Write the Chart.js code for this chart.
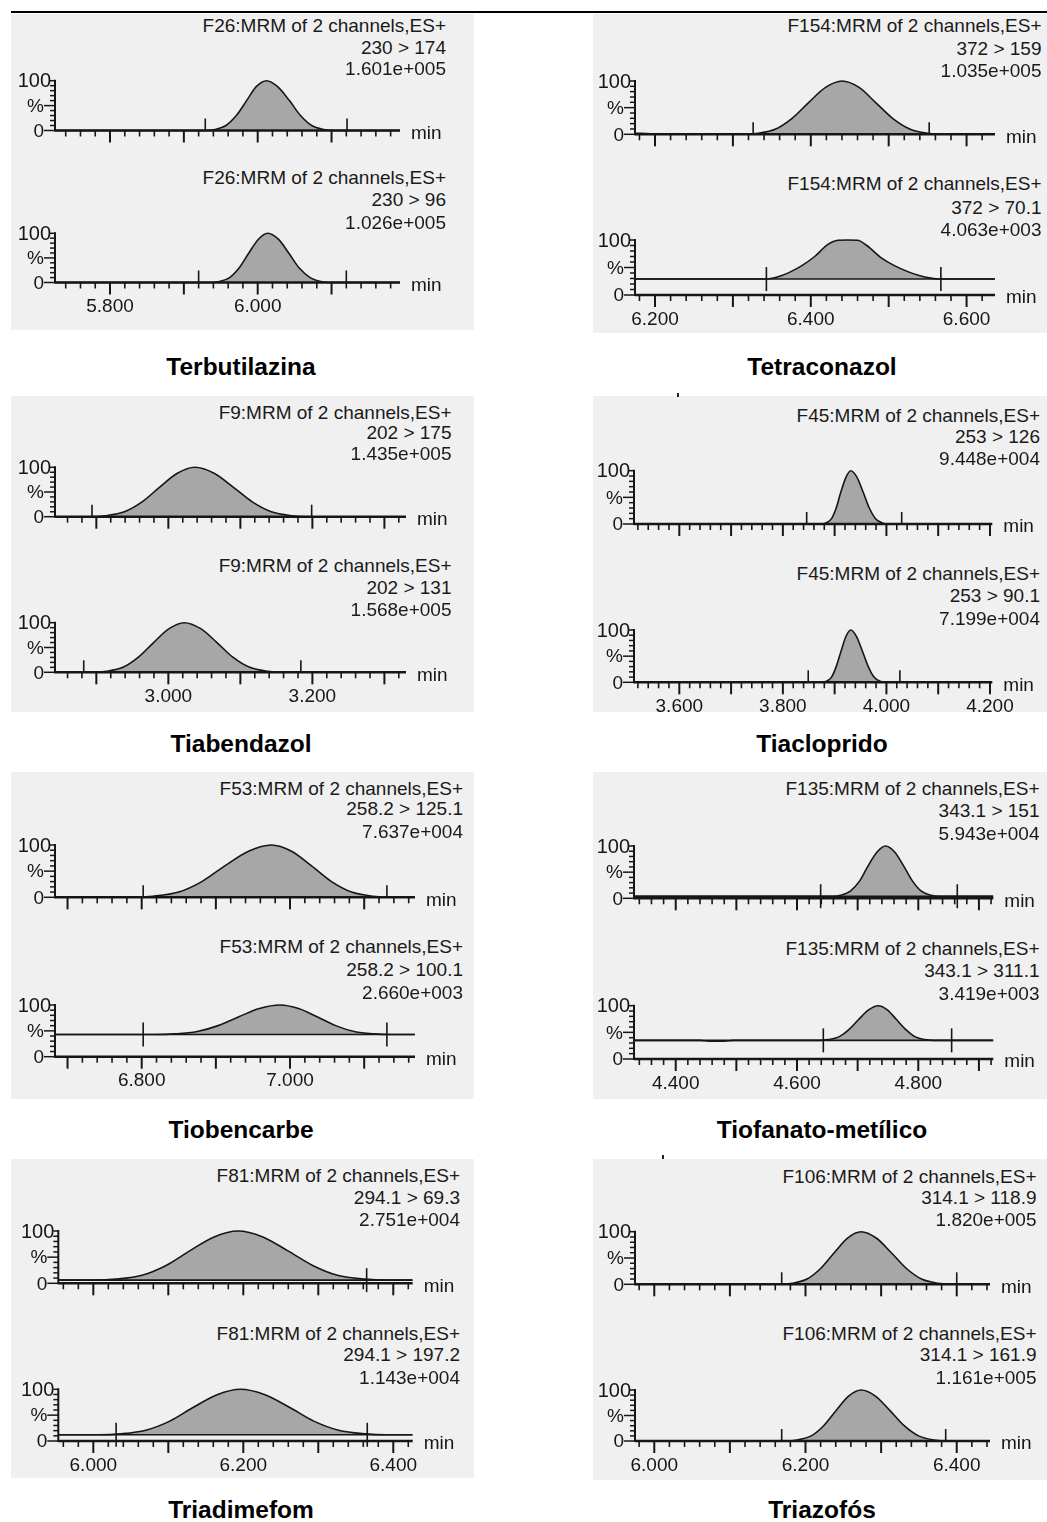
<!DOCTYPE html>
<html>
<head>
<meta charset="utf-8">
<script src="https://cdn.jsdelivr.net/npm/chart.js@4.4.1/dist/chart.umd.min.js"></script>
<style>
  html, body { margin: 0; padding: 0; background: #fff; }
  body { position: relative; width: 1047px; height: 1522px; overflow: hidden;
         font-family: "Liberation Sans", Arial, Helvetica, sans-serif; color: #1a1a1a; }
  .rule { position: absolute; left: 11px; top: 11px; width: 1036px; height: 2px; background: #000; }
  .panel { position: absolute; background: #f0f0f0; }
  .speck { position: absolute; width: 2px; height: 4px; background: #222; }
  canvas { position: absolute; }
  .note { position: absolute; font-size: 19px; line-height: 1; white-space: nowrap;
          transform: translate(-100%, -50%); }
  .title { position: absolute; font-size: 24.5px; font-weight: bold; line-height: 1; white-space: nowrap;
           transform: translate(-50%, -50%); color: #000; }
</style>
</head>
<body>
<div class="rule"></div>
<script>
// ---- Retention time (min) and relative intensity (%) of each MRM transition ----
const terbutilazinaTimeA = [5.726, 5.930, 5.942, 5.957, 5.971, 5.985, 5.998, 6.012, 6.027, 6.043, 6.058, 6.073, 6.090, 6.104, 6.193];
const terbutilazinaIntA  = [0, 0, 2, 10, 30, 60, 88, 100, 88, 60, 30, 10, 2, 0, 0];
const terbutilazinaTimeB = [5.726, 5.936, 5.948, 5.962, 5.975, 5.988, 6.001, 6.0135, 6.028, 6.042, 6.056, 6.071, 6.086, 6.099, 6.193];
const terbutilazinaIntB  = [0, 0, 2, 10, 30, 60, 88, 100, 88, 60, 30, 10, 2, 0, 0];

const tetraconazolTimeA = [6.175, 6.195, 6.22, 6.3125, 6.332, 6.355, 6.376, 6.3975, 6.419, 6.440, 6.462, 6.483, 6.505, 6.527, 6.550, 6.570, 6.636];
const tetraconazolIntA  = [2, 1, 0, 0, 2, 10, 30, 60, 88, 100, 88, 60, 30, 10, 2, 0, 0];
const tetraconazolTimeB = [6.175, 6.22, 6.26, 6.30, 6.343, 6.360, 6.375, 6.388, 6.405, 6.422, 6.435, 6.447, 6.460, 6.472, 6.490, 6.508, 6.538, 6.567, 6.636];
const tetraconazolIntB  = [29, 29, 29, 29, 29, 34, 43, 53, 70, 92, 99.5, 100, 99.5, 90, 68, 53, 36, 29, 29];

const tiabendazolTimeA = [2.843, 2.890, 2.912, 2.939, 2.9635, 2.988, 3.0125, 3.037, 3.0635, 3.090, 3.1165, 3.143, 3.172, 3.196, 3.330];
const tiabendazolIntA  = [0, 0, 2, 10, 30, 60, 88, 100, 88, 60, 30, 10, 2, 0, 0];
const tiabendazolTimeB = [2.843, 2.8945, 2.914, 2.937, 2.958, 2.9795, 3.001, 3.022, 3.045, 3.0675, 3.090, 3.113, 3.138, 3.1585, 3.330];
const tiabendazolIntB  = [0, 0, 2, 10, 30, 60, 88, 100, 88, 60, 30, 10, 2, 0, 0];

const tiaclopridoTimeA = [3.513, 3.875, 3.883, 3.894, 3.903, 3.912, 3.922, 3.931, 3.943, 3.955, 3.967, 3.979, 3.992, 4.002, 4.204];
const tiaclopridoIntA  = [0, 0, 2, 10, 30, 60, 88, 100, 88, 60, 30, 10, 2, 0, 0];
const tiaclopridoTimeB = [3.513, 3.8755, 3.884, 3.894, 3.903, 3.9125, 3.922, 3.931, 3.942, 3.9535, 3.965, 3.976, 3.988, 3.9985, 4.204];
const tiaclopridoIntB  = [0, 0, 2, 10, 30, 60, 88, 100, 88, 60, 30, 10, 2, 0, 0];

const tiobencarbeTimeA = [6.684, 6.787, 6.815, 6.850, 6.881, 6.912, 6.944, 6.975, 7.002, 7.029, 7.056, 7.083, 7.112, 7.136, 7.168];
const tiobencarbeIntA  = [0, 0, 2, 10, 30, 60, 88, 100, 88, 60, 30, 10, 2, 0, 0];
const tiobencarbeTimeB = [6.684, 6.75, 6.819, 6.8445, 6.875, 6.903, 6.931, 6.9586, 6.9865, 7.0115, 7.0365, 7.0615, 7.0865, 7.114, 7.1365, 7.168];
const tiobencarbeIntB  = [43, 43, 43, 44.1, 48.7, 60.1, 77.2, 93.2, 100, 93.2, 77.2, 60.1, 48.7, 44.1, 43, 43];

const tiofanatoTimeA = [4.332, 4.659, 4.672, 4.688, 4.703, 4.717, 4.732, 4.746, 4.761, 4.776, 4.7905, 4.805, 4.821, 4.835, 4.923];
const tiofanatoIntA  = [4, 4, 5.9, 13.6, 32.8, 61.6, 88.5, 100, 88.5, 61.6, 32.8, 13.6, 5.9, 4, 4];
const tiofanatoTimeB = [4.332, 4.44, 4.455, 4.48, 4.495, 4.6365, 4.651, 4.669, 4.685, 4.7015, 4.718, 4.734, 4.749, 4.764, 4.780, 4.795, 4.8115, 4.825, 4.923];
const tiofanatoIntB  = [35, 35, 33.5, 33.5, 35, 35, 36.3, 41.5, 54.5, 74, 92.2, 100, 92.2, 74, 54.5, 41.5, 36.3, 35, 35];

const triadimefomTimeA = [5.954, 6.001, 6.030, 6.065, 6.097, 6.129, 6.161, 6.193, 6.226, 6.259, 6.2925, 6.3255, 6.362, 6.392, 6.425];
const triadimefomIntA  = [6, 6, 7.9, 15.4, 34.2, 62.4, 88.7, 100, 88.7, 62.4, 34.2, 15.4, 7.9, 6, 6];
const triadimefomTimeB = [5.954, 6.0074, 6.036, 6.070, 6.102, 6.133, 6.165, 6.1964, 6.229, 6.262, 6.294, 6.327, 6.363, 6.392, 6.425];
const triadimefomIntB  = [12, 12, 13.8, 20.8, 38.4, 64.8, 89.4, 100, 89.4, 64.8, 38.4, 20.8, 13.8, 12, 12];

const triazofosTimeA = [5.975, 6.166, 6.1825, 6.202, 6.220, 6.238, 6.2556, 6.2735, 6.2935, 6.3135, 6.3335, 6.3535, 6.3755, 6.3935, 6.443];
const triazofosIntA  = [0, 0, 2, 10, 30, 60, 88, 100, 88, 60, 30, 10, 2, 0, 0];
const triazofosTimeB = [5.975, 6.1745, 6.189, 6.2075, 6.224, 6.2405, 6.257, 6.2735, 6.2925, 6.3115, 6.3305, 6.3495, 6.370, 6.3875, 6.443];
const triazofosIntB  = [0, 0, 2, 10, 30, 60, 88, 100, 88, 60, 30, 10, 2, 0, 0];

// Integration baseline level (%) and peak start/end marks (min)
const baselineLevels = { terbutilazina: [0, 0], tetraconazol: [0, 29], tiabendazol: [0, 0], tiacloprido: [0, 0],
                         tiobencarbe: [0, 43], tiofanato: [4, 35], triadimefom: [6, 12], triazofos: [0, 0] };
const terbutilazinaMarks = [[5.929, 6.121], [5.920, 6.120]];
const tetraconazolMarks  = [[6.326, 6.552], [6.343, 6.567]];
const tiabendazolMarks   = [[2.894, 3.199], [2.8825, 3.184]];
const tiaclopridoMarks   = [[3.846, 4.0295], [3.849, 4.026]];
const tiobencarbeMarks   = [[6.802, 7.1306], [6.802, 7.1306]];
const tiofanatoMarks     = [[4.639, 4.8643], [4.6434, 4.855]];
const triadimefomMarks   = [[6.3645], [6.0304, 6.3653]];
const triazofosMarks     = [[6.1685, 6.400], [6.1685, 6.3854]];

// Time axis ranges and labelled ticks
const terbutilazinaRange = [5.7255, 6.1927], terbutilazinaTicks = [5.8, 6.0];
const tetraconazolRange  = [6.1743, 6.6365], tetraconazolTicks  = [6.2, 6.4, 6.6];
const tiabendazolRange   = [2.8426, 3.3300], tiabendazolTicks   = [3.0, 3.2];
const tiaclopridoRange   = [3.5125, 4.2045], tiaclopridoTicks   = [3.6, 3.8, 4.0, 4.2];
const tiobencarbeRange   = [6.6831, 7.1685], tiobencarbeTicks   = [6.8, 7.0];
const tiofanatoRange     = [4.3312, 4.9237], tiofanatoTicks     = [4.4, 4.6, 4.8];
const triadimefomRange   = [5.9533, 6.4259], triadimefomTicks   = [6.0, 6.2, 6.4];
const triazofosRange     = [5.9745, 6.4440], triazofosTicks     = [6.0, 6.2, 6.4];

// Header lines printed above each trace
const terbutilazinaHeaders = [["F26:MRM of 2 channels,ES+", "230 > 174", "1.601e+005"], ["F26:MRM of 2 channels,ES+", "230 > 96", "1.026e+005"]];
const tetraconazolHeaders  = [["F154:MRM of 2 channels,ES+", "372 > 159", "1.035e+005"], ["F154:MRM of 2 channels,ES+", "372 > 70.1", "4.063e+003"]];
const tiabendazolHeaders   = [["F9:MRM of 2 channels,ES+", "202 > 175", "1.435e+005"], ["F9:MRM of 2 channels,ES+", "202 > 131", "1.568e+005"]];
const tiaclopridoHeaders   = [["F45:MRM of 2 channels,ES+", "253 > 126", "9.448e+004"], ["F45:MRM of 2 channels,ES+", "253 > 90.1", "7.199e+004"]];
const tiobencarbeHeaders   = [["F53:MRM of 2 channels,ES+", "258.2 > 125.1", "7.637e+004"], ["F53:MRM of 2 channels,ES+", "258.2 > 100.1", "2.660e+003"]];
const tiofanatoHeaders     = [["F135:MRM of 2 channels,ES+", "343.1 > 151", "5.943e+004"], ["F135:MRM of 2 channels,ES+", "343.1 > 311.1", "3.419e+003"]];
const triadimefomHeaders   = [["F81:MRM of 2 channels,ES+", "294.1 > 69.3", "2.751e+004"], ["F81:MRM of 2 channels,ES+", "294.1 > 197.2", "1.143e+004"]];
const triazofosHeaders     = [["F106:MRM of 2 channels,ES+", "314.1 > 118.9", "1.820e+005"], ["F106:MRM of 2 channels,ES+", "314.1 > 161.9", "1.161e+005"]];

const compoundNames = ["Terbutilazina", "Tetraconazol", "Tiabendazol", "Tiacloprido",
                       "Tiobencarbe", "Tiofanato-metílico", "Triadimefom", "Triazofós"];

// ---- Page layout of the eight panels (pixels) ----
const panels = [
  { name: compoundNames[0], box: [11, 14, 474, 330], axis: [55, 400], title: [241, 367], textRight: 446,
    range: terbutilazinaRange, ticks: terbutilazinaTicks, headers: terbutilazinaHeaders, marks: terbutilazinaMarks,
    base: baselineLevels.terbutilazina,
    traces: [[terbutilazinaTimeA, terbutilazinaIntA], [terbutilazinaTimeB, terbutilazinaIntB]],
    rows: [{ top: 80.7, zero: 130.5, text: [25, 46.7, 68.3] }, { top: 233.3, zero: 282.5, text: [176.7, 199.3, 221.7] }] },
  { name: compoundNames[1], box: [593, 14, 1047, 333], axis: [635, 995], title: [822, 367], textRight: 1041.5,
    range: tetraconazolRange, ticks: tetraconazolTicks, headers: tetraconazolHeaders, marks: tetraconazolMarks,
    base: baselineLevels.tetraconazol,
    traces: [[tetraconazolTimeA, tetraconazolIntA], [tetraconazolTimeB, tetraconazolIntB]],
    rows: [{ top: 81, zero: 134.3, text: [25, 47.7, 70] }, { top: 240, zero: 295, text: [183.3, 206.7, 229.3] }] },
  { name: compoundNames[2], box: [11, 396, 474, 712], axis: [55, 406], title: [241, 744], textRight: 451.5,
    range: tiabendazolRange, ticks: tiabendazolTicks, headers: tiabendazolHeaders, marks: tiabendazolMarks,
    base: baselineLevels.tiabendazol,
    traces: [[tiabendazolTimeA, tiabendazolIntA], [tiabendazolTimeB, tiabendazolIntB]],
    rows: [{ top: 467.3, zero: 516.7, text: [411.7, 431.7, 452.7] }, { top: 622.7, zero: 672.3, text: [565, 587.3, 609.3] }] },
  { name: compoundNames[3], box: [593, 396, 1047, 712], axis: [634, 992.3], title: [822, 744], textRight: 1040,
    range: tiaclopridoRange, ticks: tiaclopridoTicks, headers: tiaclopridoHeaders, marks: tiaclopridoMarks,
    base: baselineLevels.tiacloprido,
    traces: [[tiaclopridoTimeA, tiaclopridoIntA], [tiaclopridoTimeB, tiaclopridoIntB]],
    rows: [{ top: 470.7, zero: 524, text: [415, 436, 458.3] }, { top: 630, zero: 682.3, text: [572.7, 595, 617.7] }] },
  { name: compoundNames[4], box: [11, 772, 474, 1099], axis: [55, 415], title: [241, 1130], textRight: 463,
    range: tiobencarbeRange, ticks: tiobencarbeTicks, headers: tiobencarbeHeaders, marks: tiobencarbeMarks,
    base: baselineLevels.tiobencarbe,
    traces: [[tiobencarbeTimeA, tiobencarbeIntA], [tiobencarbeTimeB, tiobencarbeIntB]],
    rows: [{ top: 845, zero: 897.3, text: [787.7, 808.3, 831] }, { top: 1005, zero: 1056.7, text: [946, 969, 991.7] }] },
  { name: compoundNames[5], box: [593, 772, 1047, 1099], axis: [634, 993.3], title: [822, 1130], textRight: 1039.5,
    range: tiofanatoRange, ticks: tiofanatoTicks, headers: tiofanatoHeaders, marks: tiofanatoMarks,
    base: baselineLevels.tiofanato,
    traces: [[tiofanatoTimeA, tiofanatoIntA], [tiofanatoTimeB, tiofanatoIntB]],
    rows: [{ top: 846, zero: 898.3, text: [788.3, 810, 833.3] }, { top: 1005.7, zero: 1059, text: [947.7, 970, 993.3] }] },
  { name: compoundNames[6], box: [11, 1159, 474, 1478], axis: [58.3, 412.7], title: [241, 1510], textRight: 460,
    range: triadimefomRange, ticks: triadimefomTicks, headers: triadimefomHeaders, marks: triadimefomMarks,
    base: baselineLevels.triadimefom,
    traces: [[triadimefomTimeA, triadimefomIntA], [triadimefomTimeB, triadimefomIntB]],
    rows: [{ top: 1231, zero: 1283.3, text: [1175, 1196.7, 1219] }, { top: 1389.3, zero: 1441, text: [1332.7, 1354, 1376.7] }] },
  { name: compoundNames[7], box: [593, 1159, 1047, 1480], axis: [635, 990], title: [822, 1510], textRight: 1036.5,
    range: triazofosRange, ticks: triazofosTicks, headers: triazofosHeaders, marks: triazofosMarks,
    base: baselineLevels.triazofos,
    traces: [[triazofosTimeA, triazofosIntA], [triazofosTimeB, triazofosIntB]],
    rows: [{ top: 1231.7, zero: 1284.3, text: [1176, 1196.7, 1219] }, { top: 1390, zero: 1441, text: [1332.7, 1354, 1376.7] }] }
];

const INK = '#161616';
const FONT = '19px "Liberation Sans", Arial, Helvetica, sans-serif';
const FONT_100 = '20px "Liberation Sans", Arial, Helvetica, sans-serif';

// Draws the MassLynx-style axes, tick marks, integration marks and labels
const chromAxes = {
  id: 'chromAxes',
  afterDatasetsDraw(chart, args, opts) {
    const { ctx, chartArea: a, scales: { x, y } } = chart;
    const line = (x1, y1, x2, y2, w) => {
      ctx.lineWidth = w; ctx.beginPath(); ctx.moveTo(x1, y1); ctx.lineTo(x2, y2); ctx.stroke();
    };
    ctx.save();
    ctx.strokeStyle = INK; ctx.fillStyle = INK; ctx.lineCap = 'butt';

    // integration baseline and peak start/end marks
    const by = y.getPixelForValue(opts.base);
    if (opts.base > 0) line(a.left, by, a.right, by, 1.6);
    for (const m of opts.marks) {
      const mx = x.getPixelForValue(m);
      line(mx, by - 12, mx, opts.base > 0 ? by + 12 : by, 1.6);
    }

    // intensity axis
    line(a.left, a.top - 1, a.left, a.bottom + 1, 2);
    for (let v = 0; v <= 100; v += 10) {
      const len = (v === 0 || v === 50) ? 11 : 5;
      const py = y.getPixelForValue(v);
      line(a.left - len, py, a.left, py, 1.5);
    }

    // time axis with minor ticks every 0.02 min and major ticks every 0.1 min
    line(a.left, a.bottom, a.right, a.bottom, 2.5);
    const k0 = Math.ceil(x.min * 50 - 1e-6), k1 = Math.floor(x.max * 50 + 1e-6);
    for (let k = k0; k <= k1; k++) {
      const px = x.getPixelForValue(k / 50);
      const major = k % 5 === 0;
      line(px, a.bottom, px, a.bottom + (major ? 12 : 6), major ? 2 : 1.6);
    }

    ctx.textBaseline = 'middle';
    ctx.textAlign = 'right';
    ctx.font = FONT_100;
    ctx.fillText('100', a.left - 4, y.getPixelForValue(100) + 1);
    ctx.font = FONT;
    ctx.fillText('%', a.left - 11, y.getPixelForValue(50) + 1);
    ctx.fillText('0', a.left - 11, a.bottom + 1);
    ctx.textAlign = 'left';
    ctx.fillText('min', a.right + 11, a.bottom + 3);
    if (opts.tickLabels) {
      ctx.textAlign = 'center';
      for (const t of opts.tickLabels) ctx.fillText(t.toFixed(3), x.getPixelForValue(t), a.bottom + 24.5);
    }
    ctx.restore();
  }
};

function addDiv(cls, left, top, text) {
  const d = document.createElement('div');
  d.className = cls; d.style.left = left + 'px'; d.style.top = top + 'px';
  if (text !== undefined) d.textContent = text;
  document.body.appendChild(d);
  return d;
}

panels.forEach(p => {
  const [bl, bt, br, bb] = p.box;
  const bg = addDiv('panel', bl, bt);
  bg.style.width = (br - bl) + 'px'; bg.style.height = (bb - bt) + 'px';

  p.rows.forEach((row, r) => {
    const cLeft = Math.max(0, bl - 6), cRight = br;
    const cTop = Math.round(row.top - 14);
    const cBottom = r === 1 ? bb : Math.round(row.zero + 18);
    const w = cRight - cLeft, h = cBottom - cTop;
    const cv = document.createElement('canvas');
    cv.width = w; cv.height = h;
    cv.style.left = cLeft + 'px'; cv.style.top = cTop + 'px';
    cv.style.width = w + 'px'; cv.style.height = h + 'px';
    document.body.appendChild(cv);

    const [times, ints] = p.traces[r];
    new Chart(cv, {
      type: 'line',
      data: {
        datasets: [{
          data: times.map((t, k) => ({ x: t, y: ints[k] })),
          borderColor: INK, borderWidth: 1.6,
          backgroundColor: '#a7a7a7',
          fill: { value: p.base[r] },
          pointRadius: 0, cubicInterpolationMode: 'monotone',
          clip: { left: 0, right: 0, top: 3, bottom: 2 }
        }]
      },
      options: {
        responsive: false, animation: false, devicePixelRatio: 1, events: [],
        layout: { padding: { left: p.axis[0] - cLeft, right: cRight - p.axis[1], top: row.top - cTop, bottom: cBottom - row.zero } },
        scales: {
          x: { type: 'linear', min: p.range[0], max: p.range[1], display: false },
          y: { type: 'linear', min: 0, max: 100, display: false }
        },
        plugins: {
          legend: { display: false }, tooltip: { enabled: false },
          chromAxes: { base: p.base[r], marks: p.marks[r], tickLabels: r === 1 ? p.ticks : null }
        }
      },
      plugins: [chromAxes]
    });

    p.headers[r].forEach((txt, j) => addDiv('note', p.textRight, row.text[j], txt));
  });

  addDiv('title', p.title[0], p.title[1], p.name);
});

// small stray print marks above two of the right-hand panels
addDiv('speck', 677, 393);
addDiv('speck', 662, 1155);
</script>
</body>
</html>
